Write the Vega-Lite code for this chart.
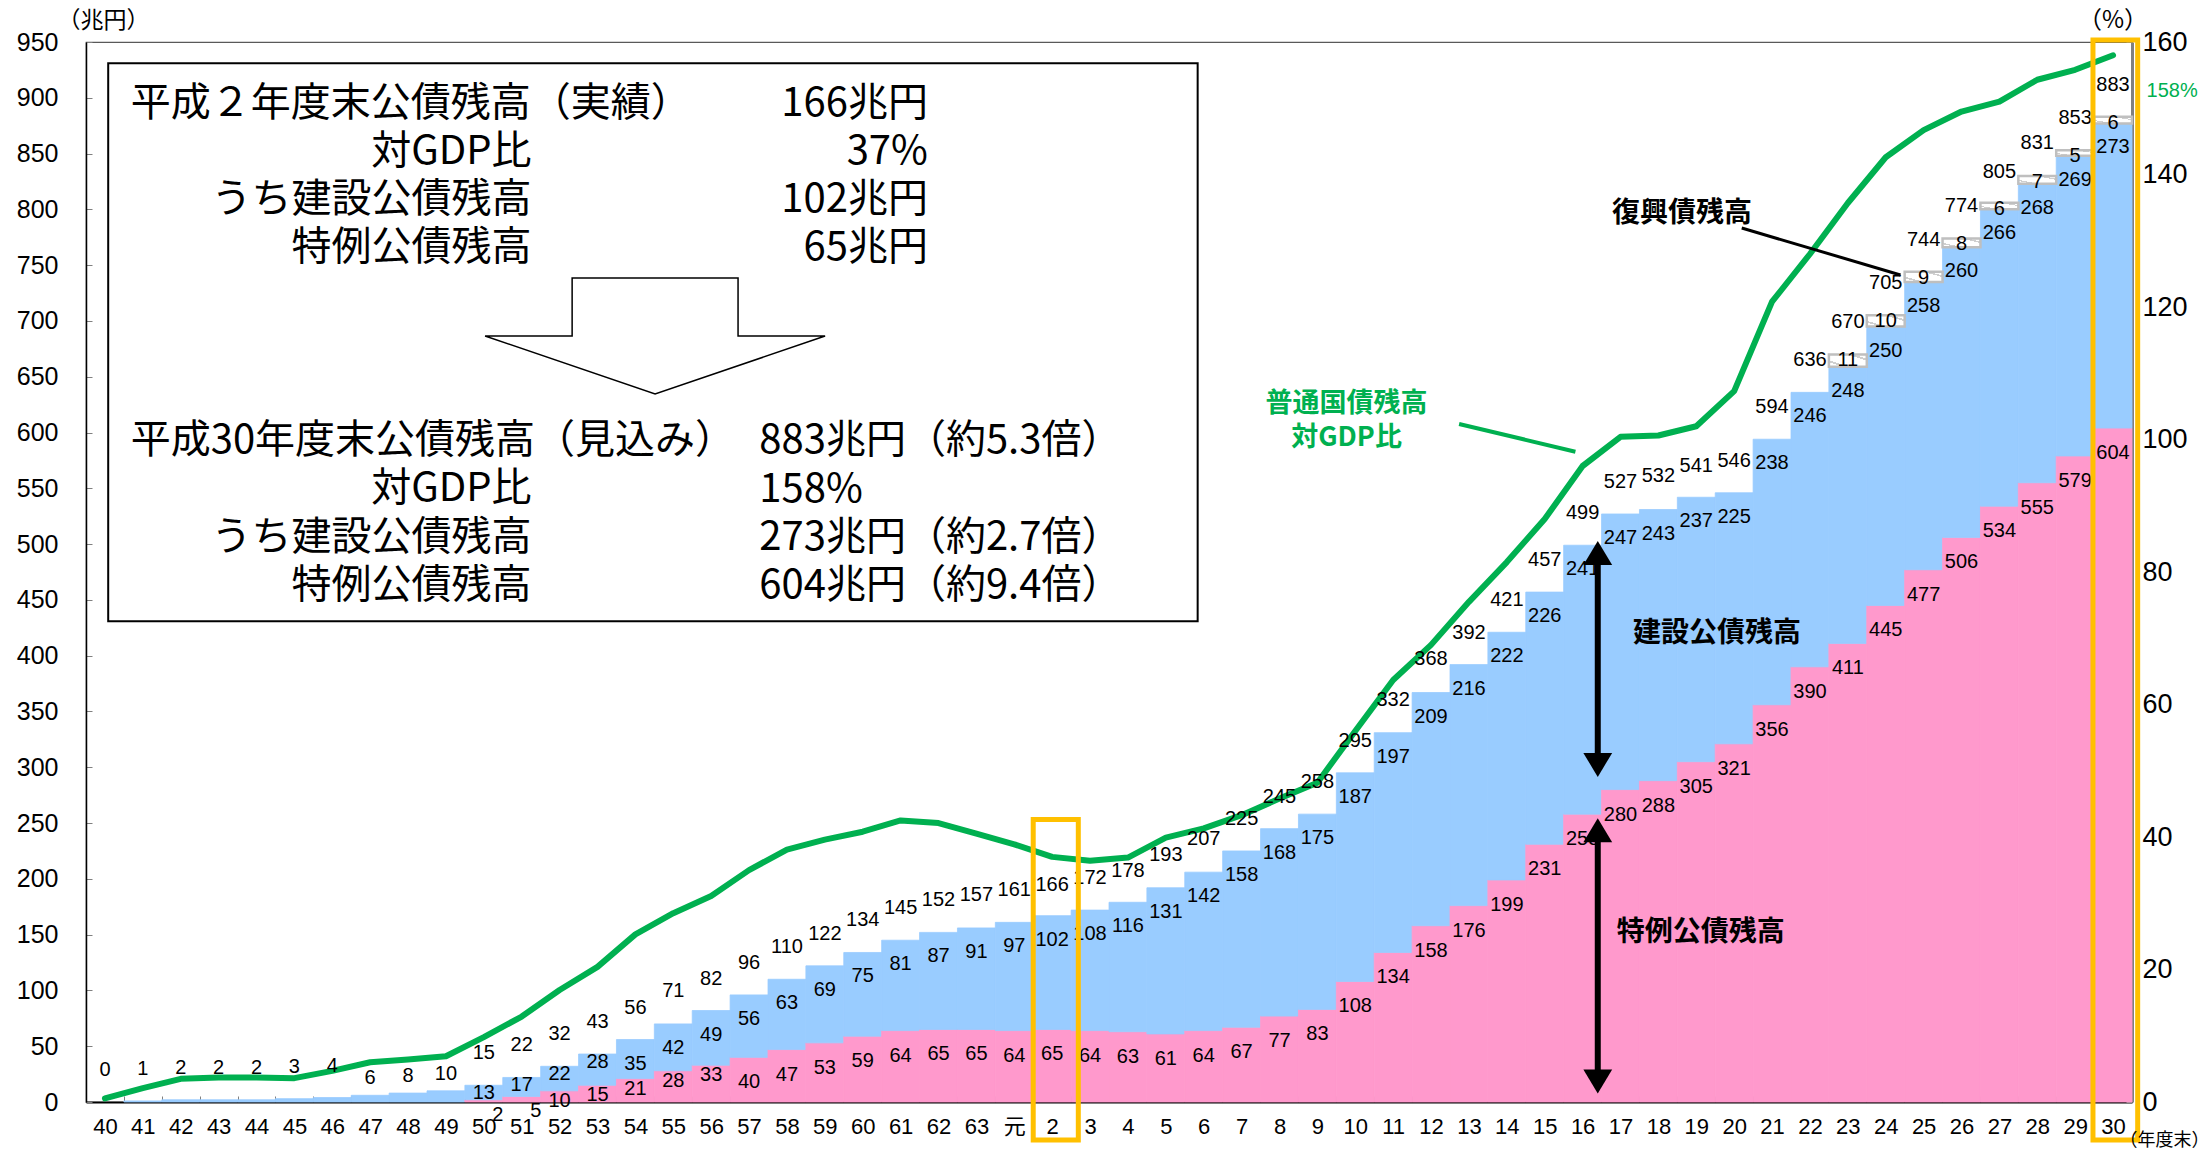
{
  "$schema": "https://vega.github.io/schema/vega-lite/v6.json",
  "width": 2046,
  "height": 1060,
  "autosize": {"type": "none"},
  "padding": {"left": 86, "top": 42, "right": 72, "bottom": 47},
  "background": "#FFFFFF",
  "view": {"stroke": "#595959", "strokeWidth": 1.2},
  "config": {"font": "Liberation Sans"},
  "data": {"values": [{}]},
  "datasets": {
    "debt": [
      {"label": "40", "fy": 1965, "total": 0, "kensetsu": 0, "tokurei": 0, "fukko": 0, "ratio": 0.55},
      {"label": "41", "fy": 1966, "total": 1, "kensetsu": 1, "tokurei": 0, "fukko": 0, "ratio": 2.1},
      {"label": "42", "fy": 1967, "total": 2, "kensetsu": 2, "tokurei": 0, "fukko": 0, "ratio": 3.5},
      {"label": "43", "fy": 1968, "total": 2, "kensetsu": 2, "tokurei": 0, "fukko": 0, "ratio": 3.7},
      {"label": "44", "fy": 1969, "total": 2, "kensetsu": 2, "tokurei": 0, "fukko": 0, "ratio": 3.7},
      {"label": "45", "fy": 1970, "total": 3, "kensetsu": 3, "tokurei": 0, "fukko": 0, "ratio": 3.6},
      {"label": "46", "fy": 1971, "total": 4, "kensetsu": 4, "tokurei": 0, "fukko": 0, "ratio": 4.7},
      {"label": "47", "fy": 1972, "total": 6, "kensetsu": 6, "tokurei": 0, "fukko": 0, "ratio": 6.0},
      {"label": "48", "fy": 1973, "total": 8, "kensetsu": 8, "tokurei": 0, "fukko": 0, "ratio": 6.4},
      {"label": "49", "fy": 1974, "total": 10, "kensetsu": 10, "tokurei": 0, "fukko": 0, "ratio": 6.9},
      {"label": "50", "fy": 1975, "total": 15, "kensetsu": 13, "tokurei": 2, "fukko": 0, "ratio": 9.8},
      {"label": "51", "fy": 1976, "total": 22, "kensetsu": 17, "tokurei": 5, "fukko": 0, "ratio": 12.9},
      {"label": "52", "fy": 1977, "total": 32, "kensetsu": 22, "tokurei": 10, "fukko": 0, "ratio": 16.9},
      {"label": "53", "fy": 1978, "total": 43, "kensetsu": 28, "tokurei": 15, "fukko": 0, "ratio": 20.4},
      {"label": "54", "fy": 1979, "total": 56, "kensetsu": 35, "tokurei": 21, "fukko": 0, "ratio": 25.3},
      {"label": "55", "fy": 1980, "total": 71, "kensetsu": 42, "tokurei": 28, "fukko": 0, "ratio": 28.5},
      {"label": "56", "fy": 1981, "total": 82, "kensetsu": 49, "tokurei": 33, "fukko": 0, "ratio": 31.1},
      {"label": "57", "fy": 1982, "total": 96, "kensetsu": 56, "tokurei": 40, "fukko": 0, "ratio": 35.0},
      {"label": "58", "fy": 1983, "total": 110, "kensetsu": 63, "tokurei": 47, "fukko": 0, "ratio": 38.1},
      {"label": "59", "fy": 1984, "total": 122, "kensetsu": 69, "tokurei": 53, "fukko": 0, "ratio": 39.6},
      {"label": "60", "fy": 1985, "total": 134, "kensetsu": 75, "tokurei": 59, "fukko": 0, "ratio": 40.8},
      {"label": "61", "fy": 1986, "total": 145, "kensetsu": 81, "tokurei": 64, "fukko": 0, "ratio": 42.5},
      {"label": "62", "fy": 1987, "total": 152, "kensetsu": 87, "tokurei": 65, "fukko": 0, "ratio": 42.1},
      {"label": "63", "fy": 1988, "total": 157, "kensetsu": 91, "tokurei": 65, "fukko": 0, "ratio": 40.5},
      {"label": "元", "fy": 1989, "total": 161, "kensetsu": 97, "tokurei": 64, "fukko": 0, "ratio": 38.9},
      {"label": "2", "fy": 1990, "total": 166, "kensetsu": 102, "tokurei": 65, "fukko": 0, "ratio": 37.0},
      {"label": "3", "fy": 1991, "total": 172, "kensetsu": 108, "tokurei": 64, "fukko": 0, "ratio": 36.4},
      {"label": "4", "fy": 1992, "total": 178, "kensetsu": 116, "tokurei": 63, "fukko": 0, "ratio": 36.9},
      {"label": "5", "fy": 1993, "total": 193, "kensetsu": 131, "tokurei": 61, "fukko": 0, "ratio": 39.9},
      {"label": "6", "fy": 1994, "total": 207, "kensetsu": 142, "tokurei": 64, "fukko": 0, "ratio": 41.3},
      {"label": "7", "fy": 1995, "total": 225, "kensetsu": 158, "tokurei": 67, "fukko": 0, "ratio": 43.3},
      {"label": "8", "fy": 1996, "total": 245, "kensetsu": 168, "tokurei": 77, "fukko": 0, "ratio": 45.8},
      {"label": "9", "fy": 1997, "total": 258, "kensetsu": 175, "tokurei": 83, "fukko": 0, "ratio": 48.2},
      {"label": "10", "fy": 1998, "total": 295, "kensetsu": 187, "tokurei": 108, "fukko": 0, "ratio": 56.0},
      {"label": "11", "fy": 1999, "total": 332, "kensetsu": 197, "tokurei": 134, "fukko": 0, "ratio": 63.7},
      {"label": "12", "fy": 2000, "total": 368, "kensetsu": 209, "tokurei": 158, "fukko": 0, "ratio": 69.0},
      {"label": "13", "fy": 2001, "total": 392, "kensetsu": 216, "tokurei": 176, "fukko": 0, "ratio": 75.5},
      {"label": "14", "fy": 2002, "total": 421, "kensetsu": 222, "tokurei": 199, "fukko": 0, "ratio": 81.5},
      {"label": "15", "fy": 2003, "total": 457, "kensetsu": 226, "tokurei": 231, "fukko": 0, "ratio": 88.0},
      {"label": "16", "fy": 2004, "total": 499, "kensetsu": 241, "tokurei": 258, "fukko": 0, "ratio": 96.0},
      {"label": "17", "fy": 2005, "total": 527, "kensetsu": 247, "tokurei": 280, "fukko": 0, "ratio": 100.4},
      {"label": "18", "fy": 2006, "total": 532, "kensetsu": 243, "tokurei": 288, "fukko": 0, "ratio": 100.6},
      {"label": "19", "fy": 2007, "total": 541, "kensetsu": 237, "tokurei": 305, "fukko": 0, "ratio": 102.0},
      {"label": "20", "fy": 2008, "total": 546, "kensetsu": 225, "tokurei": 321, "fukko": 0, "ratio": 107.3},
      {"label": "21", "fy": 2009, "total": 594, "kensetsu": 238, "tokurei": 356, "fukko": 0, "ratio": 120.8},
      {"label": "22", "fy": 2010, "total": 636, "kensetsu": 246, "tokurei": 390, "fukko": 0, "ratio": 128.0},
      {"label": "23", "fy": 2011, "total": 670, "kensetsu": 248, "tokurei": 411, "fukko": 11, "ratio": 135.7},
      {"label": "24", "fy": 2012, "total": 705, "kensetsu": 250, "tokurei": 445, "fukko": 10, "ratio": 142.6},
      {"label": "25", "fy": 2013, "total": 744, "kensetsu": 258, "tokurei": 477, "fukko": 9, "ratio": 146.7},
      {"label": "26", "fy": 2014, "total": 774, "kensetsu": 260, "tokurei": 506, "fukko": 8, "ratio": 149.5},
      {"label": "27", "fy": 2015, "total": 805, "kensetsu": 266, "tokurei": 534, "fukko": 6, "ratio": 151.0},
      {"label": "28", "fy": 2016, "total": 831, "kensetsu": 268, "tokurei": 555, "fukko": 7, "ratio": 154.3},
      {"label": "29", "fy": 2017, "total": 853, "kensetsu": 269, "tokurei": 579, "fukko": 5, "ratio": 155.8},
      {"label": "30", "fy": 2018, "total": 883, "kensetsu": 273, "tokurei": 604, "fukko": 6, "ratio": 158.0}
    ]
  },
  "resolve": {"scale": {"x": "independent", "y": "independent"}},
  "layer": [
    {
      "data": {"name": "debt"},
      "transform": [
        {"fold": ["tokurei", "kensetsu", "fukko"], "as": ["kind", "value"]},
        {"stack": "value", "groupby": ["label"], "sort": [{"field": "kind", "order": "descending"}], "as": ["v0", "v1"]},
        {"filter": "datum.kind !== 'fukko' && datum.value > 0"}
      ],
      "mark": {"type": "bar", "strokeWidth": 0.8},
      "encoding": {
        "x": {"field": "label", "type": "ordinal",
          "scale": {"type": "band", "paddingInner": 0, "paddingOuter": 0, "domain": ["40","41","42","43","44","45","46","47","48","49","50","51","52","53","54","55","56","57","58","59","60","61","62","63","元","2","3","4","5","6","7","8","9","10","11","12","13","14","15","16","17","18","19","20","21","22","23","24","25","26","27","28","29","30"]},
          "axis": {"title": null, "labelAngle": 0, "labelFont": "Liberation Sans, Noto Sans CJK JP", "labelFontSize": 22, "labelColor": "#000000", "labelPadding": 20, "tickBand": "extent", "tickSize": -6, "tickColor": "#808080", "domainColor": "#000000", "domainWidth": 2, "labelOverlap": false}},
        "y": {"field": "v1", "type": "quantitative", "scale": {"domain": [0, 950], "nice": false, "zero": false},
          "axis": {"title": null, "values": [0,50,100,150,200,250,300,350,400,450,500,550,600,650,700,750,800,850,900,950], "labelFont": "Liberation Sans", "labelFontSize": 25, "labelColor": "#000000", "labelPadding": 34, "tickSize": -6, "tickColor": "#808080", "domainColor": "#000000", "domainWidth": 1.5, "grid": false, "labelFlush": false}},
        "y2": {"field": "v0"},
        "color": {"field": "kind", "type": "nominal", "scale": {"domain": ["tokurei", "kensetsu"], "range": ["#FF99CC", "#99CCFF"]}, "legend": null},
        "stroke": {"field": "kind", "type": "nominal", "scale": {"domain": ["tokurei", "kensetsu"], "range": ["#FF99CC", "#99CCFF"]}, "legend": null}
      }
    },
    {
      "data": {"name": "debt"},
      "transform": [
        {"fold": ["tokurei", "kensetsu", "fukko"], "as": ["kind", "value"]},
        {"stack": "value", "groupby": ["label"], "sort": [{"field": "kind", "order": "descending"}], "as": ["v0", "v1"]},
        {"filter": "datum.kind === 'fukko' && datum.value > 0"}
      ],
      "mark": {"type": "bar", "stroke": "#BFBFBF", "strokeWidth": 2.5,
        "fill": {"gradient": "linear", "x1": 0, "y1": 1, "x2": 1, "y2": 0, "stops": [
          {"offset": 0, "color": "#FFFFFF"}, {"offset": 0.18, "color": "#FFFFFF"},
          {"offset": 0.18, "color": "#CFCFCF"}, {"offset": 0.26, "color": "#CFCFCF"},
          {"offset": 0.26, "color": "#FFFFFF"}, {"offset": 0.74, "color": "#FFFFFF"},
          {"offset": 0.74, "color": "#CFCFCF"}, {"offset": 0.82, "color": "#CFCFCF"},
          {"offset": 0.82, "color": "#FFFFFF"}, {"offset": 1, "color": "#FFFFFF"}]}},
      "encoding": {
        "x": {"field": "label", "type": "ordinal", "axis": null,
          "scale": {"type": "band", "paddingInner": 0, "paddingOuter": 0, "domain": ["40","41","42","43","44","45","46","47","48","49","50","51","52","53","54","55","56","57","58","59","60","61","62","63","元","2","3","4","5","6","7","8","9","10","11","12","13","14","15","16","17","18","19","20","21","22","23","24","25","26","27","28","29","30"]}},
        "y": {"field": "v1", "type": "quantitative", "scale": {"domain": [0, 950], "nice": false, "zero": false}, "axis": null},
        "y2": {"field": "v0"}
      }
    },
    {
      "data": {"name": "debt"},
      "mark": {"type": "line", "color": "#00B050", "strokeWidth": 6, "strokeJoin": "round", "strokeCap": "round"},
      "encoding": {
        "x": {"field": "label", "type": "ordinal", "bandPosition": 0.5, "axis": null,
          "scale": {"type": "band", "paddingInner": 0, "paddingOuter": 0, "domain": ["40","41","42","43","44","45","46","47","48","49","50","51","52","53","54","55","56","57","58","59","60","61","62","63","元","2","3","4","5","6","7","8","9","10","11","12","13","14","15","16","17","18","19","20","21","22","23","24","25","26","27","28","29","30"]}},
        "y": {"field": "ratio", "type": "quantitative", "scale": {"domain": [0, 160], "nice": false, "zero": false},
          "axis": {"orient": "right", "title": null, "values": [0,20,40,60,80,100,120,140,160], "labelFont": "Liberation Sans", "labelFontSize": 27, "labelColor": "#000000", "labelPadding": 16, "tickSize": -6, "tickColor": "#808080", "domainColor": "#808080", "domainWidth": 3, "grid": false, "labelFlush": false}}
      }
    },
    {
      "data": {"name": "debt"},
      "transform": [{"filter": "datum.fy < 1972 || datum.fy > 1974"}],
      "mark": {"type": "text", "baseline": "middle", "align": "center", "dy": -32, "fontSize": 20, "font": "Liberation Sans", "color": "#000000"},
      "encoding": {
        "x": {"field": "label", "type": "ordinal", "bandPosition": 0.5, "axis": null,
          "scale": {"type": "band", "paddingInner": 0, "paddingOuter": 0, "domain": ["40","41","42","43","44","45","46","47","48","49","50","51","52","53","54","55","56","57","58","59","60","61","62","63","元","2","3","4","5","6","7","8","9","10","11","12","13","14","15","16","17","18","19","20","21","22","23","24","25","26","27","28","29","30"]}},
        "y": {"field": "total", "type": "quantitative", "scale": {"domain": [0, 950], "nice": false, "zero": false}, "axis": null},
        "text": {"field": "total", "type": "quantitative", "format": "d"}
      }
    },
    {
      "data": {"name": "debt"},
      "transform": [{"filter": "datum.fy >= 1972 && datum.fy <= 1974"}],
      "mark": {"type": "text", "baseline": "middle", "align": "center", "dy": -17, "fontSize": 20, "font": "Liberation Sans", "color": "#000000"},
      "encoding": {
        "x": {"field": "label", "type": "ordinal", "bandPosition": 0.5, "axis": null,
          "scale": {"type": "band", "paddingInner": 0, "paddingOuter": 0, "domain": ["40","41","42","43","44","45","46","47","48","49","50","51","52","53","54","55","56","57","58","59","60","61","62","63","元","2","3","4","5","6","7","8","9","10","11","12","13","14","15","16","17","18","19","20","21","22","23","24","25","26","27","28","29","30"]}},
        "y": {"field": "total", "type": "quantitative", "scale": {"domain": [0, 950], "nice": false, "zero": false}, "axis": null},
        "text": {"field": "total", "type": "quantitative", "format": "d"}
      }
    },
    {
      "data": {"name": "debt"},
      "transform": [
        {"fold": ["tokurei", "kensetsu", "fukko"], "as": ["kind", "value"]},
        {"stack": "value", "groupby": ["label"], "sort": [{"field": "kind", "order": "descending"}], "as": ["v0", "v1"]},
        {"filter": "datum.kind === 'kensetsu' && datum.fy >= 1975 && datum.fy <= 1978"}
      ],
      "mark": {"type": "text", "baseline": "middle", "align": "center", "dy": 8, "fontSize": 20, "font": "Liberation Sans", "color": "#000000"},
      "encoding": {
        "x": {"field": "label", "type": "ordinal", "bandPosition": 0.5, "axis": null,
          "scale": {"type": "band", "paddingInner": 0, "paddingOuter": 0, "domain": ["40","41","42","43","44","45","46","47","48","49","50","51","52","53","54","55","56","57","58","59","60","61","62","63","元","2","3","4","5","6","7","8","9","10","11","12","13","14","15","16","17","18","19","20","21","22","23","24","25","26","27","28","29","30"]}},
        "y": {"field": "v1", "type": "quantitative", "scale": {"domain": [0, 950], "nice": false, "zero": false}, "axis": null},
        "text": {"field": "value", "type": "quantitative", "format": "d"}
      }
    },
    {
      "data": {"name": "debt"},
      "transform": [
        {"fold": ["tokurei", "kensetsu", "fukko"], "as": ["kind", "value"]},
        {"stack": "value", "groupby": ["label"], "sort": [{"field": "kind", "order": "descending"}], "as": ["v0", "v1"]},
        {"filter": "datum.kind === 'kensetsu' && datum.fy >= 1979"}
      ],
      "mark": {"type": "text", "baseline": "middle", "align": "center", "dy": 24, "fontSize": 20, "font": "Liberation Sans", "color": "#000000"},
      "encoding": {
        "x": {"field": "label", "type": "ordinal", "bandPosition": 0.5, "axis": null,
          "scale": {"type": "band", "paddingInner": 0, "paddingOuter": 0, "domain": ["40","41","42","43","44","45","46","47","48","49","50","51","52","53","54","55","56","57","58","59","60","61","62","63","元","2","3","4","5","6","7","8","9","10","11","12","13","14","15","16","17","18","19","20","21","22","23","24","25","26","27","28","29","30"]}},
        "y": {"field": "v1", "type": "quantitative", "scale": {"domain": [0, 950], "nice": false, "zero": false}, "axis": null},
        "text": {"field": "value", "type": "quantitative", "format": "d"}
      }
    },
    {
      "data": {"name": "debt"},
      "transform": [
        {"fold": ["tokurei", "kensetsu", "fukko"], "as": ["kind", "value"]},
        {"stack": "value", "groupby": ["label"], "sort": [{"field": "kind", "order": "descending"}], "as": ["v0", "v1"]},
        {"filter": "datum.kind === 'tokurei' && datum.fy >= 1975 && datum.fy <= 1976"}
      ],
      "mark": {"type": "text", "baseline": "middle", "align": "center", "dy": 15, "dx": 14, "fontSize": 20, "font": "Liberation Sans", "color": "#000000"},
      "encoding": {
        "x": {"field": "label", "type": "ordinal", "bandPosition": 0.5, "axis": null,
          "scale": {"type": "band", "paddingInner": 0, "paddingOuter": 0, "domain": ["40","41","42","43","44","45","46","47","48","49","50","51","52","53","54","55","56","57","58","59","60","61","62","63","元","2","3","4","5","6","7","8","9","10","11","12","13","14","15","16","17","18","19","20","21","22","23","24","25","26","27","28","29","30"]}},
        "y": {"field": "v1", "type": "quantitative", "scale": {"domain": [0, 950], "nice": false, "zero": false}, "axis": null},
        "text": {"field": "value", "type": "quantitative", "format": "d"}
      }
    },
    {
      "data": {"name": "debt"},
      "transform": [
        {"fold": ["tokurei", "kensetsu", "fukko"], "as": ["kind", "value"]},
        {"stack": "value", "groupby": ["label"], "sort": [{"field": "kind", "order": "descending"}], "as": ["v0", "v1"]},
        {"filter": "datum.kind === 'tokurei' && datum.fy >= 1977 && datum.fy <= 1981"}
      ],
      "mark": {"type": "text", "baseline": "middle", "align": "center", "dy": 10, "fontSize": 20, "font": "Liberation Sans", "color": "#000000"},
      "encoding": {
        "x": {"field": "label", "type": "ordinal", "bandPosition": 0.5, "axis": null,
          "scale": {"type": "band", "paddingInner": 0, "paddingOuter": 0, "domain": ["40","41","42","43","44","45","46","47","48","49","50","51","52","53","54","55","56","57","58","59","60","61","62","63","元","2","3","4","5","6","7","8","9","10","11","12","13","14","15","16","17","18","19","20","21","22","23","24","25","26","27","28","29","30"]}},
        "y": {"field": "v1", "type": "quantitative", "scale": {"domain": [0, 950], "nice": false, "zero": false}, "axis": null},
        "text": {"field": "value", "type": "quantitative", "format": "d"}
      }
    },
    {
      "data": {"name": "debt"},
      "transform": [
        {"fold": ["tokurei", "kensetsu", "fukko"], "as": ["kind", "value"]},
        {"stack": "value", "groupby": ["label"], "sort": [{"field": "kind", "order": "descending"}], "as": ["v0", "v1"]},
        {"filter": "datum.kind === 'tokurei' && datum.fy >= 1982"}
      ],
      "mark": {"type": "text", "baseline": "middle", "align": "center", "dy": 25, "fontSize": 20, "font": "Liberation Sans", "color": "#000000"},
      "encoding": {
        "x": {"field": "label", "type": "ordinal", "bandPosition": 0.5, "axis": null,
          "scale": {"type": "band", "paddingInner": 0, "paddingOuter": 0, "domain": ["40","41","42","43","44","45","46","47","48","49","50","51","52","53","54","55","56","57","58","59","60","61","62","63","元","2","3","4","5","6","7","8","9","10","11","12","13","14","15","16","17","18","19","20","21","22","23","24","25","26","27","28","29","30"]}},
        "y": {"field": "v1", "type": "quantitative", "scale": {"domain": [0, 950], "nice": false, "zero": false}, "axis": null},
        "text": {"field": "value", "type": "quantitative", "format": "d"}
      }
    },
    {
      "data": {"name": "debt"},
      "transform": [
        {"fold": ["tokurei", "kensetsu", "fukko"], "as": ["kind", "value"]},
        {"stack": "value", "groupby": ["label"], "sort": [{"field": "kind", "order": "descending"}], "as": ["v0", "v1"]},
        {"filter": "datum.kind === 'fukko' && datum.value > 0"}
      ],
      "mark": {"type": "text", "baseline": "middle", "align": "center", "dy": 6, "fontSize": 20, "font": "Liberation Sans", "color": "#000000"},
      "encoding": {
        "x": {"field": "label", "type": "ordinal", "bandPosition": 0.5, "axis": null,
          "scale": {"type": "band", "paddingInner": 0, "paddingOuter": 0, "domain": ["40","41","42","43","44","45","46","47","48","49","50","51","52","53","54","55","56","57","58","59","60","61","62","63","元","2","3","4","5","6","7","8","9","10","11","12","13","14","15","16","17","18","19","20","21","22","23","24","25","26","27","28","29","30"]}},
        "y": {"field": "v1", "type": "quantitative", "scale": {"domain": [0, 950], "nice": false, "zero": false}, "axis": null},
        "text": {"field": "value", "type": "quantitative", "format": "d"}
      }
    },
    {
      "mark": {"type": "rect", "fill": "#FFFFFF", "stroke": "#000000", "strokeWidth": 2},
      "encoding": {
        "x": {"datum": 0.586, "type": "quantitative", "scale": {"domain": [0, 54], "nice": false, "zero": false}, "axis": null},
        "x2": {"datum": 29.34},
        "y": {"datum": 930.9, "type": "quantitative", "scale": {"domain": [0, 950], "nice": false, "zero": false}, "axis": null},
        "y2": {"datum": 430.8}
      }
    },
    {
      "mark": {"type": "point", "shape": "M -0.488 -0.341 L 0.488 -0.341 L 0.488 0 L 1 0 L 0 0.341 L -1 0 L -0.488 0 Z", "size": 115600, "filled": true, "fill": "#FFFFFF", "stroke": "#000000", "strokeWidth": 1.5, "opacity": 1, "fillOpacity": 1, "strokeOpacity": 1},
      "encoding": {
        "x": {"datum": 15.02, "type": "quantitative", "scale": {"domain": [0, 54], "nice": false, "zero": false}, "axis": null},
        "y": {"datum": 686.5, "type": "quantitative", "scale": {"domain": [0, 950], "nice": false, "zero": false}, "axis": null}
      }
    },
    {
      "mark": {"type": "text", "text": "平成２年度末公債残高（実績）", "align": "left", "baseline": "top", "font": "Noto Sans CJK JP", "fontSize": 40, "color": "#000000"},
      "encoding": {
        "x": {"datum": 1.18, "type": "quantitative", "scale": {"domain": [0, 54], "nice": false, "zero": false}, "axis": null},
        "y": {"datum": 912.5, "type": "quantitative", "scale": {"domain": [0, 950], "nice": false, "zero": false}, "axis": null}
      }
    },
    {
      "mark": {"type": "text", "text": ["対GDP比", "うち建設公債残高", "特例公債残高"], "lineHeight": 48, "align": "right", "baseline": "top", "font": "Noto Sans CJK JP", "fontSize": 40, "color": "#000000"},
      "encoding": {
        "x": {"datum": 11.76, "type": "quantitative", "scale": {"domain": [0, 54], "nice": false, "zero": false}, "axis": null},
        "y": {"datum": 869.5, "type": "quantitative", "scale": {"domain": [0, 950], "nice": false, "zero": false}, "axis": null}
      }
    },
    {
      "mark": {"type": "text", "text": ["166兆円", "37%", "102兆円", "65兆円"], "lineHeight": 48, "align": "right", "baseline": "top", "font": "Noto Sans CJK JP", "fontSize": 40, "color": "#000000"},
      "encoding": {
        "x": {"datum": 22.22, "type": "quantitative", "scale": {"domain": [0, 54], "nice": false, "zero": false}, "axis": null},
        "y": {"datum": 912.5, "type": "quantitative", "scale": {"domain": [0, 950], "nice": false, "zero": false}, "axis": null}
      }
    },
    {
      "mark": {"type": "text", "text": "平成30年度末公債残高（見込み）", "align": "left", "baseline": "top", "font": "Noto Sans CJK JP", "fontSize": 40, "color": "#000000"},
      "encoding": {
        "x": {"datum": 1.18, "type": "quantitative", "scale": {"domain": [0, 54], "nice": false, "zero": false}, "axis": null},
        "y": {"datum": 609.9, "type": "quantitative", "scale": {"domain": [0, 950], "nice": false, "zero": false}, "axis": null}
      }
    },
    {
      "mark": {"type": "text", "text": ["対GDP比", "うち建設公債残高", "特例公債残高"], "lineHeight": 48.3, "align": "right", "baseline": "top", "font": "Noto Sans CJK JP", "fontSize": 40, "color": "#000000"},
      "encoding": {
        "x": {"datum": 11.76, "type": "quantitative", "scale": {"domain": [0, 54], "nice": false, "zero": false}, "axis": null},
        "y": {"datum": 567.1, "type": "quantitative", "scale": {"domain": [0, 950], "nice": false, "zero": false}, "axis": null}
      }
    },
    {
      "mark": {"type": "text", "text": ["883兆円（約5.3倍）", "158%", "273兆円（約2.7倍）", "604兆円（約9.4倍）"], "lineHeight": 48.3, "align": "left", "baseline": "top", "font": "Noto Sans CJK JP", "fontSize": 40, "color": "#000000"},
      "encoding": {
        "x": {"datum": 17.77, "type": "quantitative", "scale": {"domain": [0, 54], "nice": false, "zero": false}, "axis": null},
        "y": {"datum": 609.9, "type": "quantitative", "scale": {"domain": [0, 950], "nice": false, "zero": false}, "axis": null}
      }
    },
    {
      "mark": {"type": "rect", "fillOpacity": 0, "stroke": "#FFC000", "strokeWidth": 5},
      "encoding": {
        "x": {"datum": 25.0, "type": "quantitative", "scale": {"domain": [0, 54], "nice": false, "zero": false}, "axis": null},
        "x2": {"datum": 26.19},
        "y": {"datum": 253.2, "type": "quantitative", "scale": {"domain": [0, 950], "nice": false, "zero": false}, "axis": null},
        "y2": {"datum": -34.1}
      }
    },
    {
      "mark": {"type": "rect", "fillOpacity": 0, "stroke": "#FFC000", "strokeWidth": 5},
      "encoding": {
        "x": {"datum": 52.97, "type": "quantitative", "scale": {"domain": [0, 54], "nice": false, "zero": false}, "axis": null},
        "x2": {"datum": 54.15},
        "y": {"datum": 951.8, "type": "quantitative", "scale": {"domain": [0, 950], "nice": false, "zero": false}, "axis": null},
        "y2": {"datum": -34.1}
      }
    },
    {
      "mark": {"type": "rule", "color": "#000000", "strokeWidth": 6},
      "encoding": {
        "x": {"datum": 39.9, "type": "quantitative", "scale": {"domain": [0, 54], "nice": false, "zero": false}, "axis": null},
        "y": {"datum": 492.0, "type": "quantitative", "scale": {"domain": [0, 950], "nice": false, "zero": false}, "axis": null},
        "y2": {"datum": 302.1}
      }
    },
    {
      "mark": {"type": "rule", "color": "#000000", "strokeWidth": 6},
      "encoding": {
        "x": {"datum": 39.9, "type": "quantitative", "scale": {"domain": [0, 54], "nice": false, "zero": false}, "axis": null},
        "y": {"datum": 243.5, "type": "quantitative", "scale": {"domain": [0, 950], "nice": false, "zero": false}, "axis": null},
        "y2": {"datum": 18.3}
      }
    },
    {
      "mark": {"type": "point", "shape": "M 0 -1 L 1.2 1 L -1.2 1 Z", "size": 576, "filled": true, "color": "#000000", "opacity": 1},
      "encoding": {
        "x": {"datum": 39.9, "type": "quantitative", "scale": {"domain": [0, 54], "nice": false, "zero": false}, "axis": null},
        "y": {"datum": 492.0, "type": "quantitative", "scale": {"domain": [0, 950], "nice": false, "zero": false}, "axis": null}
      }
    },
    {
      "mark": {"type": "point", "shape": "M 0 1 L 1.2 -1 L -1.2 -1 Z", "size": 576, "filled": true, "color": "#000000", "opacity": 1},
      "encoding": {
        "x": {"datum": 39.9, "type": "quantitative", "scale": {"domain": [0, 54], "nice": false, "zero": false}, "axis": null},
        "y": {"datum": 302.1, "type": "quantitative", "scale": {"domain": [0, 950], "nice": false, "zero": false}, "axis": null}
      }
    },
    {
      "mark": {"type": "point", "shape": "M 0 -1 L 1.2 1 L -1.2 1 Z", "size": 576, "filled": true, "color": "#000000", "opacity": 1},
      "encoding": {
        "x": {"datum": 39.9, "type": "quantitative", "scale": {"domain": [0, 54], "nice": false, "zero": false}, "axis": null},
        "y": {"datum": 243.5, "type": "quantitative", "scale": {"domain": [0, 950], "nice": false, "zero": false}, "axis": null}
      }
    },
    {
      "mark": {"type": "point", "shape": "M 0 1 L 1.2 -1 L -1.2 -1 Z", "size": 576, "filled": true, "color": "#000000", "opacity": 1},
      "encoding": {
        "x": {"datum": 39.9, "type": "quantitative", "scale": {"domain": [0, 54], "nice": false, "zero": false}, "axis": null},
        "y": {"datum": 18.3, "type": "quantitative", "scale": {"domain": [0, 950], "nice": false, "zero": false}, "axis": null}
      }
    },
    {
      "mark": {"type": "rule", "color": "#000000", "strokeWidth": 3},
      "encoding": {
        "x": {"datum": 43.7, "type": "quantitative", "scale": {"domain": [0, 54], "nice": false, "zero": false}, "axis": null},
        "x2": {"datum": 47.89},
        "y": {"datum": 783.3, "type": "quantitative", "scale": {"domain": [0, 950], "nice": false, "zero": false}, "axis": null},
        "y2": {"datum": 741.2}
      }
    },
    {
      "mark": {"type": "rule", "color": "#00B050", "strokeWidth": 4},
      "encoding": {
        "x": {"datum": 36.24, "type": "quantitative", "scale": {"domain": [0, 54], "nice": false, "zero": false}, "axis": null},
        "x2": {"datum": 39.31},
        "y": {"datum": 607.7, "type": "quantitative", "scale": {"domain": [0, 950], "nice": false, "zero": false}, "axis": null},
        "y2": {"datum": 582.8}
      }
    },
    {
      "mark": {"type": "text", "text": "復興債残高", "align": "center", "baseline": "middle", "font": "Noto Sans CJK JP", "fontWeight": "bold", "fontSize": 28, "color": "#000000"},
      "encoding": {
        "x": {"datum": 42.12, "type": "quantitative", "scale": {"domain": [0, 54], "nice": false, "zero": false}, "axis": null},
        "y": {"datum": 796.0, "type": "quantitative", "scale": {"domain": [0, 950], "nice": false, "zero": false}, "axis": null}
      }
    },
    {
      "mark": {"type": "text", "text": "建設公債残高", "align": "center", "baseline": "middle", "font": "Noto Sans CJK JP", "fontWeight": "bold", "fontSize": 28, "color": "#000000"},
      "encoding": {
        "x": {"datum": 43.05, "type": "quantitative", "scale": {"domain": [0, 54], "nice": false, "zero": false}, "axis": null},
        "y": {"datum": 419.5, "type": "quantitative", "scale": {"domain": [0, 950], "nice": false, "zero": false}, "axis": null}
      }
    },
    {
      "mark": {"type": "text", "text": "特例公債残高", "align": "center", "baseline": "middle", "font": "Noto Sans CJK JP", "fontWeight": "bold", "fontSize": 28, "color": "#000000"},
      "encoding": {
        "x": {"datum": 42.62, "type": "quantitative", "scale": {"domain": [0, 54], "nice": false, "zero": false}, "axis": null},
        "y": {"datum": 151.5, "type": "quantitative", "scale": {"domain": [0, 950], "nice": false, "zero": false}, "axis": null}
      }
    },
    {
      "mark": {"type": "text", "text": ["普通国債残高", "対GDP比"], "lineHeight": 34, "align": "center", "baseline": "top", "font": "Noto Sans CJK JP", "fontWeight": "bold", "fontSize": 27, "color": "#00B050"},
      "encoding": {
        "x": {"datum": 33.27, "type": "quantitative", "scale": {"domain": [0, 54], "nice": false, "zero": false}, "axis": null},
        "y": {"datum": 637.5, "type": "quantitative", "scale": {"domain": [0, 950], "nice": false, "zero": false}, "axis": null}
      }
    },
    {
      "mark": {"type": "text", "text": "（兆円）", "align": "center", "baseline": "middle", "font": "Noto Sans CJK JP", "fontSize": 23, "color": "#000000"},
      "encoding": {
        "x": {"datum": 0.46, "type": "quantitative", "scale": {"domain": [0, 54], "nice": false, "zero": false}, "axis": null},
        "y": {"datum": 968.5, "type": "quantitative", "scale": {"domain": [0, 950], "nice": false, "zero": false}, "axis": null}
      }
    },
    {
      "mark": {"type": "text", "text": "（%）", "align": "center", "baseline": "middle", "font": "Noto Sans CJK JP", "fontSize": 24, "color": "#000000"},
      "encoding": {
        "x": {"datum": 53.5, "type": "quantitative", "scale": {"domain": [0, 54], "nice": false, "zero": false}, "axis": null},
        "y": {"datum": 968.5, "type": "quantitative", "scale": {"domain": [0, 950], "nice": false, "zero": false}, "axis": null}
      }
    },
    {
      "mark": {"type": "text", "text": "158%", "align": "center", "baseline": "middle", "font": "Liberation Sans", "fontSize": 20, "color": "#00B050"},
      "encoding": {
        "x": {"datum": 55.06, "type": "quantitative", "scale": {"domain": [0, 54], "nice": false, "zero": false}, "axis": null},
        "y": {"datum": 905.7, "type": "quantitative", "scale": {"domain": [0, 950], "nice": false, "zero": false}, "axis": null}
      }
    },
    {
      "mark": {"type": "text", "text": "（年度末）", "align": "center", "baseline": "middle", "font": "Noto Sans CJK JP", "fontSize": 18, "color": "#000000"},
      "encoding": {
        "x": {"datum": 54.86, "type": "quantitative", "scale": {"domain": [0, 54], "nice": false, "zero": false}, "axis": null},
        "y": {"datum": -35.4, "type": "quantitative", "scale": {"domain": [0, 950], "nice": false, "zero": false}, "axis": null}
      }
    }
  ]
}
